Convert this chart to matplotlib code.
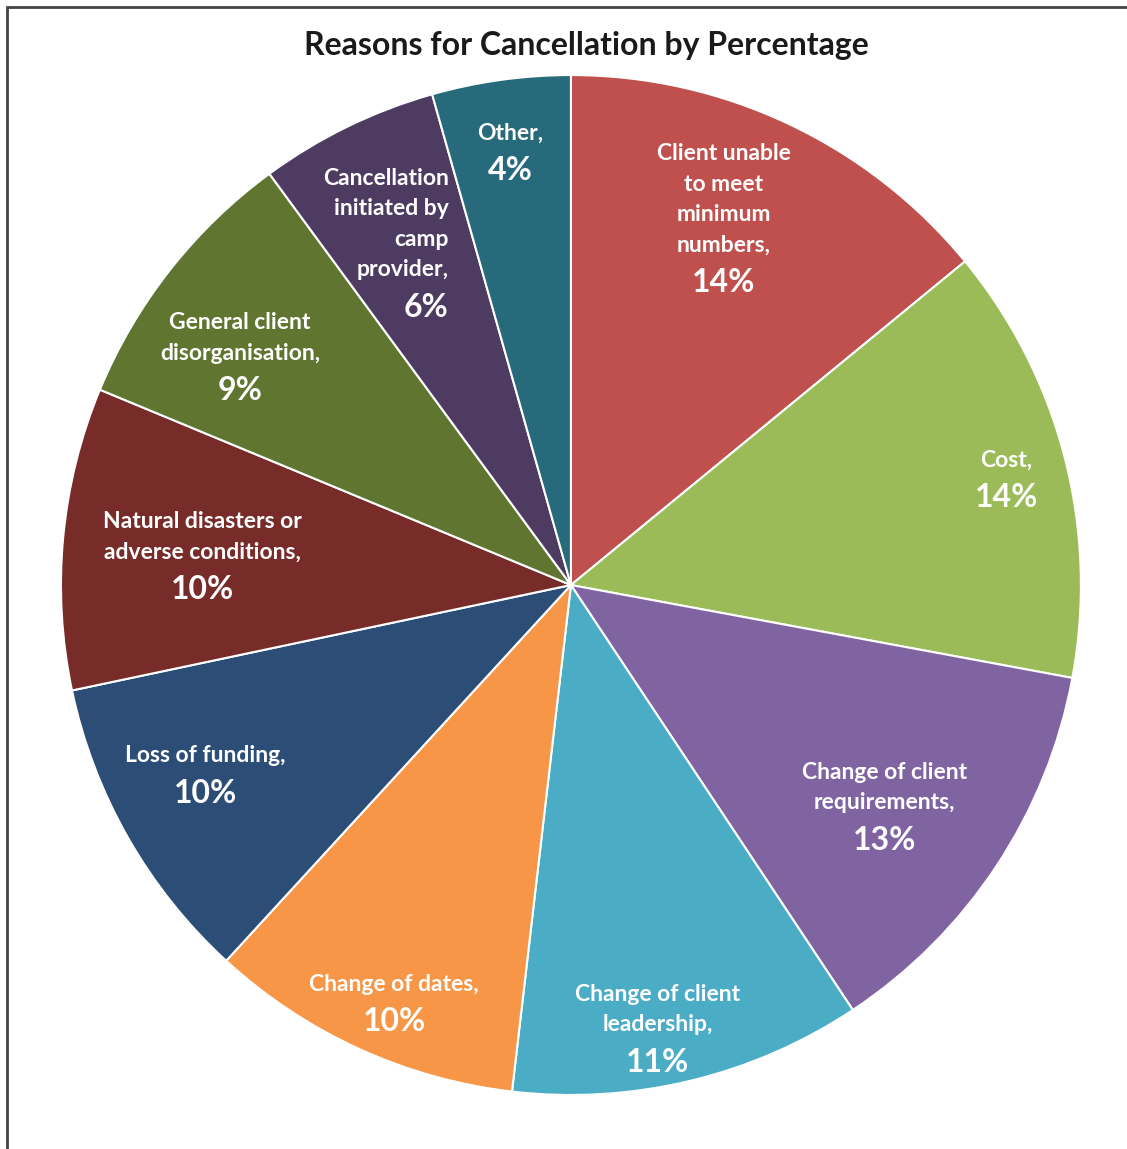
import matplotlib.pyplot as plt
import matplotlib.patches as mpatches
import numpy as np

# Datos
motivos = [
    'Client unable\nto meet\nminimum\nnumbers,',
    'Cost,',
    'Change of client\nrequirements,',
    'Change of client\nleadership,',
    'Change of dates,',
    'Loss of funding,',
    'Natural disasters or\nadverse conditions,',
    'General client\ndisorganisation,',
    'Cancellation\ninitiated by\ncamp\nprovider,',
    'Other,',
]
porcentajes = [14.1, 13.9, 12.8, 11.2, 10.0, 9.9, 9.6, 8.7, 5.7, 4.4]
colores = ['#C0504D', '#9BBB59', '#8064A2', '#4BACC6', '#F79646',
           '#2C4D75', '#772C2A', '#5F7530', '#4D3B62', '#276A7C']

# Posición de las etiquetas: fracción del radio y desvío angular (grados, sentido horario)
radios_etiqueta = [0.70, 0.879, 0.768, 0.913, 0.888, 0.806, 0.724, 0.773, 0.65, 0.86]
desvio_angulo = [0, 0.6, 3.4, 2.7, -1.6, 2.45, -2.9, -5.2, 0, 0]

plt.rcParams['font.family'] = ['Lato', 'DejaVu Sans']

fig = plt.figure(figsize=(11.27, 11.49), dpi=100)
ax = fig.add_axes([0.0541, 0.047, 0.905, 0.8877])

wedges, _ = ax.pie(porcentajes, colors=colores, startangle=90, counterclock=False,
                   wedgeprops=dict(edgecolor='white', linewidth=1.5))
ax.set_xlim(-1, 1)
ax.set_ylim(-1, 1)
ax.set_aspect('equal')
ax.axis('off')

for w, nombre, pct, r, d in zip(wedges, motivos, porcentajes, radios_etiqueta, desvio_angulo):
    ang = np.deg2rad((w.theta1 + w.theta2) / 2 - d)
    x, y = r * np.cos(ang), r * np.sin(ang)
    if nombre.startswith('Cancellation'):
        ax.annotate(nombre, (x, y), xytext=(17, 5), textcoords='offset points',
                    ha='right', va='bottom', ma='right', color='white',
                    fontsize=16.5, fontweight='bold', linespacing=1.55)
    else:
        ax.annotate(nombre, (x, y), xytext=(0, 5), textcoords='offset points',
                    ha='center', va='bottom', ma='center', color='white',
                    fontsize=16.5, fontweight='bold', linespacing=1.55)
    ax.annotate(f'{pct:.0f}%', (x, y), xytext=(0, -4), textcoords='offset points',
                ha='center', va='top', color='white', fontsize=23, fontweight='bold')

fig.text(0.52, 1 - 46 / 1149, 'Reasons for Cancellation by Percentage',
         ha='center', va='center', fontsize=23, fontweight='bold', color='#1a1a1a')

# Marco del gráfico (solo se ven el borde superior e izquierdo)
fig.patches.append(mpatches.Rectangle((7 / 1127, -0.05), 1.1, 1 - 7 / 1149 + 0.05,
                                      transform=fig.transFigure, fill=False,
                                      edgecolor='#444444', linewidth=2))

fig.savefig('out.png', dpi=100)
